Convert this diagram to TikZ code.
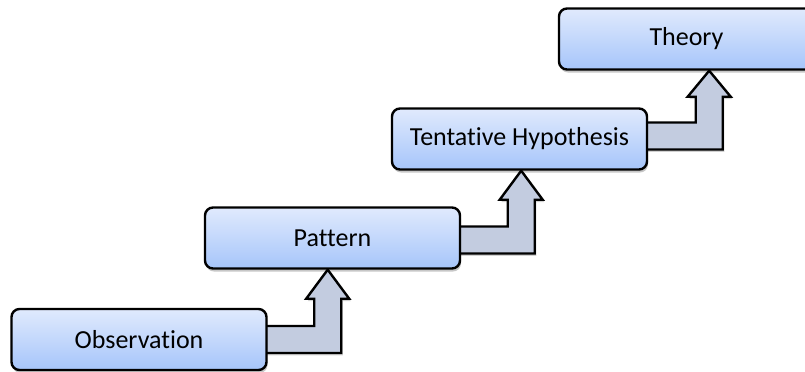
\documentclass[tikz,border=0pt]{standalone}
\usepackage{fontspec}
\setmainfont{Carlito}[Ligatures=NoCommon]
\usetikzlibrary{calc,backgrounds,shadows}
\definecolor{boxtop}{RGB}{224,234,253}
\definecolor{boxbot}{RGB}{166,197,250}
\definecolor{arrowfill}{RGB}{195,204,224}
\tikzset{
  stepbox/.style={draw=black, line width=1.2pt, rounded corners=4pt,
    minimum width=127.5pt, minimum height=30.5pt, inner sep=0pt,
    top color=boxtop, bottom color=boxbot,
    font=\fontsize{13}{15}\selectfont,
    drop shadow={shadow xshift=0.5pt, shadow yshift=-1.5pt, opacity=0.22, fill=black}},
  blockarrow/.style={draw=black, line width=1.2pt, fill=arrowfill, line join=miter,
    drop shadow={shadow xshift=0.8pt, shadow yshift=-1.2pt, opacity=0.18, fill=black}}
}
\begin{document}
\begin{tikzpicture}[x=0.5pt, y=-0.5pt]
\useasboundingbox (0,0) rectangle (805,371);
\node[stepbox] (obs)  at (139,339.5) {Observation};
\node[stepbox] (pat)  at (332.5,238) {Pattern};
\node[stepbox] (hyp)  at (519.5,139) {Tentative Hypothesis};
\node[stepbox] (theo) at (686.5,39) {Theory};
\coordinate (t1) at ($(pat.south -| obs.east)+(60,0)$);
\coordinate (t2) at ($(hyp.south -| pat.east)+(60,0)$);
\coordinate (t3) at ($(theo.south -| hyp.east)+(61,0)$);
\begin{scope}[on background layer]
\draw[blockarrow] ($(obs.east)+(-4,13.5)$) -- ($(obs.east)+(73.5,13.5)$) -- ($(t1)+(13.5,29)$) -- ($(t1)+(21.5,29)$) -- (t1) -- ($(t1)+(-21.5,29)$) -- ($(t1)+(-13.5,29)$) -- ($(obs.east)+(46.5,-13.5)$) -- ($(obs.east)+(-4,-13.5)$);
\draw[blockarrow] ($(pat.east)+(-4,15.5)$) -- ($(pat.east)+(73.5,15.5)$) -- ($(t2)+(13.5,29)$) -- ($(t2)+(21.5,29)$) -- (t2) -- ($(t2)+(-21.5,29)$) -- ($(t2)+(-13.5,29)$) -- ($(pat.east)+(46.5,-11.5)$) -- ($(pat.east)+(-4,-11.5)$);
\draw[blockarrow] ($(hyp.east)+(-4,10.5)$) -- ($(hyp.east)+(74.5,10.5)$) -- ($(t3)+(13.5,26)$) -- ($(t3)+(21.5,26)$) -- (t3) -- ($(t3)+(-21.5,26)$) -- ($(t3)+(-13.5,26)$) -- ($(hyp.east)+(47.5,-16.5)$) -- ($(hyp.east)+(-4,-16.5)$);
\end{scope}
\end{tikzpicture}
\end{document}
